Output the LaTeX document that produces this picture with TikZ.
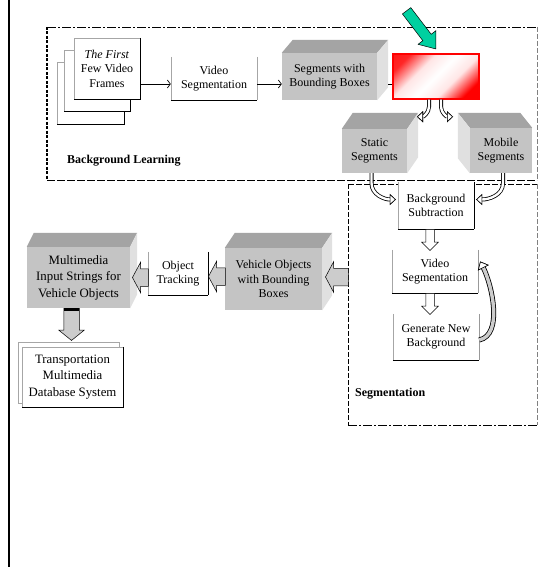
\documentclass[tikz,border=0pt]{standalone}
\usepackage{fontspec}
\setmainfont{Liberation Serif}
\usetikzlibrary{shapes.arrows,arrows.meta,calc}
\definecolor{topg}{HTML}{A4A4A4}
\definecolor{frontg}{HTML}{C4C4C4}
\definecolor{sideg}{HTML}{E0E0E0}
\definecolor{tealg}{HTML}{00D0A0}
\pgfdeclarehorizontalshading{rwr}{100bp}{color(0bp)=(red);color(24bp)=(red!85);color(38bp)=(red!10);color(50bp)=(white);color(62bp)=(red!10);color(76bp)=(red);color(100bp)=(red)}
\newcommand{\cubeR}[3]{%
  \fill[topg] (#1.north west) -- ++(#2,-#3) -- ($(#1.north east)+(#2,-#3)$) -- (#1.north east) -- cycle;
  \fill[sideg] (#1.north east) -- ++(#2,-#3) -- ($(#1.south east)+(#2,-#3)$) -- (#1.south east) -- cycle;}
\newcommand{\cubeL}[3]{%
  \fill[topg] (#1.north east) -- ++(-#2,-#3) -- ($(#1.north west)+(-#2,-#3)$) -- (#1.north west) -- cycle;
  \fill[sideg] (#1.north west) -- ++(-#2,-#3) -- ($(#1.south west)+(-#2,-#3)$) -- (#1.south west) -- cycle;}
\newcommand{\shadowedges}[1]{\draw[line width=1.3pt] (#1.north east) -- (#1.south east) -- (#1.south west);}
\newcommand{\openedges}[2]{%
  \draw[gray!70, line width=0.5pt] (#1.north west) -- (#1.south west);
  \draw[#2, line width=0.6pt] (#1.north east) -- (#1.south east);
  \draw[line width=1.1pt] (#1.south west) -- (#1.south east);}
\begin{document}
\begin{tikzpicture}[x=1pt,y=-1pt,
  txt/.style={font=\fontsize{12}{14.5}\selectfont, align=center, inner sep=0pt},
  bigtxt/.style={font=\fontsize{12.8}{16.5}\selectfont, align=center, inner sep=0pt},
  plainbox/.style={fill=white, draw=gray!70, line width=0.4pt},
  openbox/.style={txt, fill=white},
  frontface/.style={txt, fill=frontg},
  redbox/.style={draw=red, line width=1.5pt, shading=rwr, shading angle=-45},
  thinarrow/.style={line width=0.7pt, -{Straight Barb[length=3pt,width=8pt]}},
  hollow/.style={line width=2.4pt, white,
     preaction={draw=black, line width=4pt, -{Triangle[length=6pt,width=11pt,color=black,fill=white,line width=0.6pt]}},
     -{Triangle[length=6pt,width=11pt,color=black,fill=white,line width=0.6pt]}},
  hollowgray/.style={line width=3.4pt, gray!40,
     preaction={draw=black, line width=5pt, -{Triangle[length=7pt,width=12pt,color=black,fill=white,line width=0.6pt]}},
     -{Triangle[length=7pt,width=12pt,color=black,fill=white,line width=0.6pt]}},
  blockarrow/.style={single arrow, draw=black, line width=0.5pt, inner xsep=0pt, minimum width=0pt},
  grayarrow/.style={blockarrow, fill=gray!40, inner ysep=8.5pt,
     single arrow head extend=6.5pt, single arrow tip angle=124},
  downarrow/.style={blockarrow, fill=gray!40, inner ysep=7.5pt,
     single arrow head extend=5pt, single arrow tip angle=102},
  whitearrow/.style={blockarrow, fill=white, inner ysep=4pt,
     single arrow head extend=4pt, single arrow tip angle=90},
  greenarrow/.style={blockarrow, fill=tealg, inner ysep=5pt,
     single arrow head extend=6pt, single arrow tip angle=76},
  dashdot/.style={line width=0.8pt, dash pattern=on 9pt off 2pt on 2pt off 2pt},
  labeltxt/.style={font=\fontsize{12}{14}\selectfont\bfseries, inner sep=0pt}
]
\useasboundingbox (0,0) rectangle (544,567);
\fill[white] (0,0) rectangle (544,567);
% left page rule
\draw[line width=2pt] (9,0) -- (9,567);

% ---- Background Learning frame
\draw[dashdot] (47,27) -- (537,27);
\draw[line width=0.8pt, dash pattern=on 8pt off 2pt] (47,180) -- (537,180);
\draw[gray, line width=0.8pt, dash pattern=on 5pt off 2pt] (537,27) -- (537,180);
\draw[line width=2pt, dash pattern=on 3pt off 1.5pt] (47,27) -- (47,180);
\node[labeltxt, anchor=west] (bllabel) at (67,161) {Background Learning};

% ---- Segmentation frame
\draw[line width=0.7pt, dash pattern=on 6pt off 2pt] (348,184) -- (537,184);
\draw[line width=0.7pt, dash pattern=on 5pt off 2pt] (348,184) -- (348,425);
\draw[dashdot] (348,425) -- (537,425);
\draw[gray, line width=0.8pt, dash pattern=on 5pt off 2pt] (537,184) -- (537,425);
\node[labeltxt, anchor=west] (seglabel) at (355,394) {Segmentation};

% ---- frames stack
\node[plainbox, minimum width=67pt, minimum height=62pt] (f3) at (90.5,93) {};
\shadowedges{f3}
\node[plainbox, minimum width=66pt, minimum height=61pt] (f2) at (97,80.5) {};
\shadowedges{f2}
\node[plainbox, txt, minimum width=66pt, minimum height=61pt] (frames) at (107,68.5) {\textit{The First}\\Few Video\\Frames};
\shadowedges{frames}

% ---- top row
\coordinate (row) at (0,84);
\node[openbox, minimum width=86pt, minimum height=43pt] (vs1) at (214,78.5) {Video\\Segmentation};
\openedges{vs1}{gray!70}
\node[frontface, minimum width=95pt, minimum height=47pt] (segs) at (329.5,76.5) {Segments with\\Bounding Boxes};
\cubeR{segs}{11}{13}
\node[redbox, minimum width=86pt, minimum height=45pt] (red) at (436,76.5) {};
\node[greenarrow, minimum height=48pt, rotate=-52.6, anchor=tip] (ga) at ([yshift=4pt]red.north) {};

\draw[thinarrow] (frames.east |- row) -- (vs1.west |- row);
\draw[thinarrow] (vs1.east |- row) -- (segs.west |- row);
\draw[line width=0.7pt] ($(segs.east |- row)+(11,0)$) -- (red.west |- row);

% ---- static / mobile
\node[frontface, minimum width=65pt, minimum height=44pt] (static) at (374.5,151) {Static\\Segments};
\cubeR{static}{11}{16}
\node[frontface, minimum width=62pt, minimum height=45pt] (mobile) at (501,150.5) {Mobile\\Segments};
\cubeL{mobile}{12}{15}

\draw[hollow] ([xshift=-7pt]red.south) -- ++(0,7) to[out=-90,in=0] ++(-12,10);
\draw[hollow] ([xshift=5pt]red.south) -- ++(0,7) to[out=-90,in=180] ++(12,10);

% ---- segmentation column
\node[openbox, minimum width=76pt, minimum height=47pt] (bs) at (436,205.5) {Background\\Subtraction};
\openedges{bs}{black}
\node[openbox, minimum width=86pt, minimum height=43pt] (vs2) at (435,271.5) {Video\\Segmentation};
\openedges{vs2}{gray!80}
\node[openbox, minimum width=86pt, minimum height=46pt] (gnb) at (436,337) {Generate New\\Background};
\openedges{gnb}{gray!80}

\draw[hollow] ([xshift=-3pt]static.south) -- ++(0,10) to[out=-90,in=180] ($(bs.west)+(-2,-6)$);
\draw[hollow] ([xshift=2pt]mobile.south) -- ++(0,10) to[out=-90,in=0] ($(bs.east)+(2,-6)$);
\node[whitearrow, rotate=-90, minimum height=21pt, anchor=tail] (a5) at ([xshift=-6pt]bs.south) {};
\node[whitearrow, rotate=-90, minimum height=21pt, anchor=tail] (a6) at ([xshift=-5pt]vs2.south) {};
\draw[hollowgray] ($(gnb.east)+(0,3)$) .. controls +(24,-5) and +(12,24) .. ($(vs2.east)+(2,-10)$);

% ---- bottom row
\node[frontface, minimum width=97pt, minimum height=62pt] (vehicle) at (273.5,279) {Vehicle Objects\\with Bounding\\Boxes};
\cubeR{vehicle}{10}{15}
\node[openbox, minimum width=60pt, minimum height=43pt] (ot) at (178,273.5) {Object\\Tracking};
\openedges{ot}{black}
\node[frontface, bigtxt, minimum width=103pt, minimum height=61pt] (mm) at (78.5,277.5) {Multimedia\\Input Strings for\\Vehicle Objects};
\cubeR{mm}{7}{14}

\node[grayarrow, rotate=180, minimum height=23pt, anchor=tip] (a1) at ($(vehicle.east)+(3,-2)$) {};
\node[grayarrow, rotate=180, minimum height=17pt, anchor=tip] (a2) at ($(ot.east)+(0,3)$) {};
\node[grayarrow, rotate=180, minimum height=16pt, anchor=tip] (a3) at ($(mm.east)+(2,0)$) {};

% ---- database
\node[plainbox, minimum width=101pt, minimum height=61pt] (tback) at (68.5,372.5) {};
\node[plainbox, bigtxt, minimum width=101pt, minimum height=60pt] (tmds) at (72.5,377) {Transportation\\Multimedia\\Database System};
\shadowedges{tmds}
\node[downarrow, rotate=-90, minimum height=32pt, anchor=tail] (a4) at ($(mm.south)+(-7,0)$) {};
\draw[line width=3pt] ($(a4.tail)+(-7.5,1.5)$) -- ($(a4.tail)+(7.5,1.5)$);
\end{tikzpicture}
\end{document}
